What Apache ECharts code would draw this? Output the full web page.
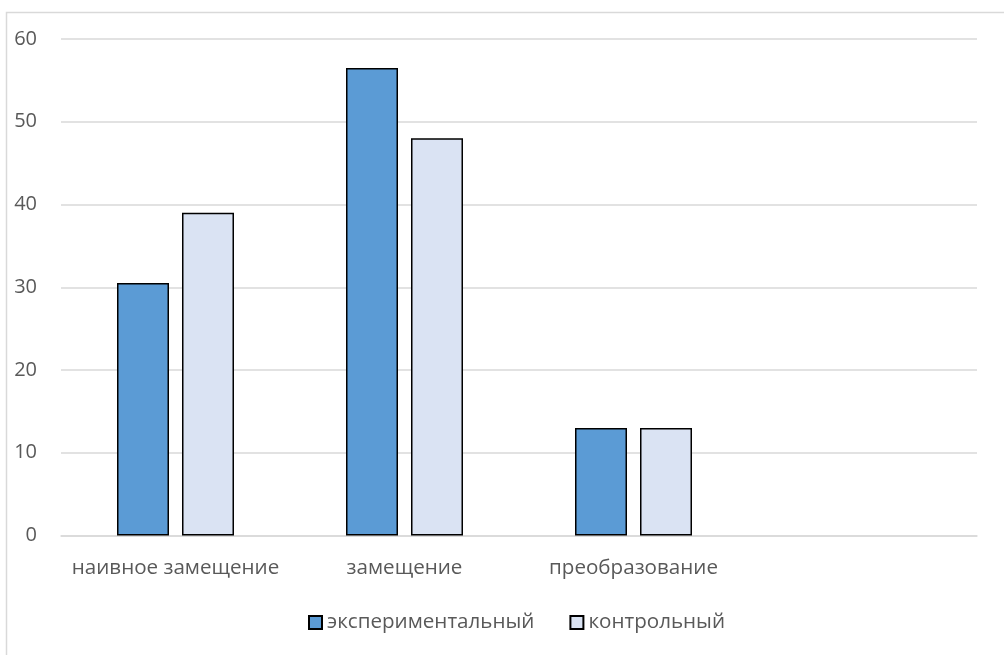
<!DOCTYPE html>
<html>
<head>
<meta charset="utf-8">
<script src="https://cdn.jsdelivr.net/npm/echarts@6/dist/echarts.min.js"></script>
<style>
  html, body { margin: 0; padding: 0; background: #fff; }
  #chart { width: 1004px; height: 655px; }
</style>
</head>
<body>
<div id="chart"></div>
<script>
// Categories (the last slot is an empty band on the axis)
const categories = ['наивное замещение', 'замещение', 'преобразование', ''];
const seriesNames = ['экспериментальный', 'контрольный'];
const experimental = [30.5, 56.5, 13];
const control = [39, 48, 13];
const yTicks = { min: 0, max: 60, interval: 10 };

const textColor = '#595959';
const font = '"Open Sans", sans-serif';

const chart = echarts.init(document.getElementById('chart'), null, { renderer: 'canvas' });

chart.setOption({
  animation: false,
  backgroundColor: '#fff',
  textStyle: { fontFamily: font },
  graphic: [{
    type: 'rect',
    shape: { x: 6.5, y: 12.5, width: 1010, height: 700 },
    style: { fill: 'none', stroke: '#d9d9d9', lineWidth: 1.5 },
    silent: true
  }],
  grid: { left: 61, right: 27, top: 39, bottom: 119.5 },
  legend: {
    bottom: 17,
    left: 303,
    itemWidth: 13,
    itemHeight: 13,
    itemGap: 35,
    textStyle: { color: textColor, fontSize: 20.6, fontFamily: font },
    data: seriesNames.map(n => ({ name: n, icon: 'rect' }))
  },
  xAxis: {
    type: 'category',
    data: categories,
    axisLine: { lineStyle: { color: '#d9d9d9', width: 1.5 } },
    axisTick: { show: false },
    axisLabel: { color: textColor, fontSize: 20.6, margin: 22, interval: 0 }
  },
  yAxis: {
    type: 'value',
    min: yTicks.min,
    max: yTicks.max,
    interval: yTicks.interval,
    axisLine: { show: false },
    axisTick: { show: false },
    axisLabel: { color: textColor, fontSize: 20, margin: 24 },
    splitLine: { lineStyle: { color: '#d9d9d9', width: 1.5 } }
  },
  series: [
    {
      name: seriesNames[0],
      type: 'bar',
      data: experimental,
      barWidth: 52,
      barGap: '25%',
      itemStyle: { color: '#5b9bd5', borderColor: '#000', borderWidth: 1.5 }
    },
    {
      name: seriesNames[1],
      type: 'bar',
      data: control,
      barWidth: 52,
      barGap: '25%',
      itemStyle: { color: '#dae3f3', borderColor: '#000', borderWidth: 1.5 }
    }
  ]
});
</script>
</body>
</html>
